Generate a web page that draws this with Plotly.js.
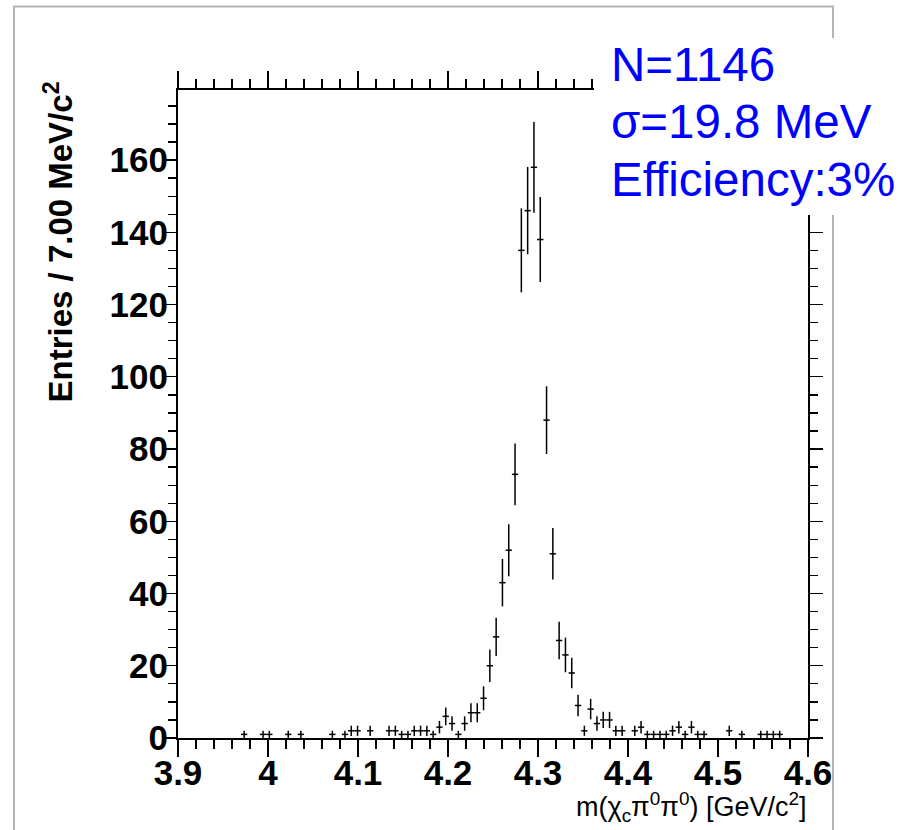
<!DOCTYPE html>
<html>
<head>
<meta charset="utf-8">
<script src="https://cdn.plot.ly/plotly-3.0.1.min.js"></script>
<style>
html,body{margin:0;padding:0;background:#fff;}
#chart{width:915px;height:830px;}
</style>
</head>
<body>
<div id="chart"></div>
<script>
// Bin centres (GeV/c^2) of non-empty 7 MeV bins, 3.9 - 4.6
const massCenters = [
  3.9735, 3.9945, 4.0015, 4.0225, 4.0365, 4.0715, 4.0855, 4.0925, 4.0995, 4.1135,
  4.1345, 4.1415, 4.1485, 4.1555, 4.1625, 4.1695, 4.1765, 4.1835, 4.1905, 4.1975,
  4.2045, 4.2115, 4.2185, 4.2255, 4.2325, 4.2395, 4.2465, 4.2535, 4.2605, 4.2675,
  4.2745, 4.2815, 4.2885, 4.2955, 4.3025, 4.3095, 4.3165, 4.3235, 4.3305, 4.3375,
  4.3445, 4.3515, 4.3585, 4.3655, 4.3725, 4.3795, 4.3865, 4.3935, 4.4075, 4.4145,
  4.4215, 4.4285, 4.4355, 4.4425, 4.4495, 4.4565, 4.4635, 4.4705, 4.4775, 4.4845,
  4.5125, 4.5265, 4.5475, 4.5545, 4.5615, 4.5685
];
// Entries per bin
const counts = [
  1, 1, 1, 1, 1, 1, 1, 2, 2, 2,
  2, 2, 1, 1, 2, 2, 2, 1, 3, 6,
  4, 1, 4, 7, 7, 11, 20, 28, 43, 52,
  73, 135, 146, 158, 138, 88, 51, 27, 23, 18,
  9, 2, 8, 4, 5, 5, 2, 2, 2, 3,
  1, 1, 1, 1, 2, 3, 1, 3, 1, 1,
  2, 1, 1, 1, 1, 1
];
const binHalfWidth = 0.0035;
const xTickVals = [3.9, 4.0, 4.1, 4.2, 4.3, 4.4, 4.5, 4.6];
const xTickText = ["3.9", "4", "4.1", "4.2", "4.3", "4.4", "4.5", "4.6"];
const yTickVals = [0, 20, 40, 60, 80, 100, 120, 140, 160];
const yTickText = ["0", "20", "40", "60", "80", "100", "120", "140", "160"];
const infoLines = ["N=1146", "σ=19.8 MeV", "Efficiency:3%"];

const errs = counts.map(v => Math.sqrt(v));

// pixel helpers for paper coordinates
const L = 178, R = 808, T = 90, B = 738;
const px = p => (p - L) / (R - L);
const py = p => (B - p) / (B - T);

const trace = {
  type: 'scatter',
  mode: 'markers',
  x: massCenters,
  y: counts,
  marker: {size: 1, color: 'black'},
  error_y: {type: 'data', array: errs, visible: true, color: 'black', thickness: 1.5, width: 0},
  error_x: {type: 'constant', value: binHalfWidth, visible: true, color: 'black', thickness: 1.5, width: 0},
  hoverinfo: 'skip',
  showlegend: false
};

const tickFont = {family: 'Liberation Sans, Arial, sans-serif', size: 35, color: 'black', weight: 'bold'};

const layout = {
  width: 915, height: 830,
  margin: {l: L, r: 915 - R, t: T, b: 830 - B, pad: 0},
  paper_bgcolor: 'white', plot_bgcolor: 'white',
  showlegend: false,
  xaxis: {
    range: [3.9, 4.6], tickmode: 'array', tickvals: xTickVals, ticktext: xTickText,
    ticks: 'outside', ticklen: 17, tickwidth: 1.3, tickcolor: 'black',
    minor: {dtick: 0.02, tick0: 3.9, ticks: 'outside', ticklen: 9, tickwidth: 1.3, tickcolor: 'black', showgrid: false},
    showline: true, linecolor: 'black', linewidth: 2, mirror: 'ticks',
    showgrid: false, zeroline: false, tickfont: tickFont, ticklabelstandoff: -14
  },
  yaxis: {
    range: [0, 179.4], tickmode: 'array', tickvals: yTickVals, ticktext: yTickText,
    ticks: 'outside', ticklen: 13, tickwidth: 1.3, tickcolor: 'black',
    minor: {dtick: 5, tick0: 0, ticks: 'outside', ticklen: 8, tickwidth: 1.3, tickcolor: 'black', showgrid: false},
    showline: true, linecolor: 'black', linewidth: 2, mirror: 'ticks',
    showgrid: false, zeroline: false, tickfont: tickFont, ticklabelstandoff: -12
  },
  shapes: [
    {type: 'rect', xref: 'paper', yref: 'paper', x0: px(14), x1: px(833), y0: py(850), y1: py(6.5),
     line: {color: '#b4b4b4', width: 2}, fillcolor: 'rgba(0,0,0,0)', layer: 'below'},
    {type: 'rect', xref: 'paper', yref: 'paper', x0: px(594), x1: px(912), y0: py(215), y1: py(38),
     line: {width: 0}, fillcolor: 'white', layer: 'above'}
  ],
  annotations: [
    {xref: 'paper', yref: 'paper', x: px(59), y: py(80), xanchor: 'center', yanchor: 'top',
     text: 'Entries / 7.00 MeV/c<sup>2</sup>', textangle: -90, showarrow: false,
     font: {family: 'Liberation Sans, Arial, sans-serif', size: 33, color: 'black', weight: 'bold'}},
    {xref: 'paper', yref: 'paper', x: px(808), y: py(807), xanchor: 'right', yanchor: 'middle',
     text: 'm(χ<sub>c</sub>π<sup>0</sup>π<sup>0</sup>) [GeV/c<sup>2</sup>]', showarrow: false,
     font: {family: 'Liberation Sans, Arial, sans-serif', size: 27, color: 'black'}},
    {xref: 'paper', yref: 'paper', x: px(609), y: py(64), xanchor: 'left', yanchor: 'middle',
     text: infoLines[0], showarrow: false,
     font: {family: 'Liberation Sans, Arial, sans-serif', size: 47.5, color: '#0000ff'}},
    {xref: 'paper', yref: 'paper', x: px(609), y: py(121), xanchor: 'left', yanchor: 'middle',
     text: infoLines[1], showarrow: false,
     font: {family: 'Liberation Sans, Arial, sans-serif', size: 47.5, color: '#0000ff'}},
    {xref: 'paper', yref: 'paper', x: px(609), y: py(179), xanchor: 'left', yanchor: 'middle',
     text: infoLines[2], showarrow: false,
     font: {family: 'Liberation Sans, Arial, sans-serif', size: 47.5, color: '#0000ff'}}
  ]
};

Plotly.newPlot('chart', [trace], layout, {staticPlot: true, displayModeBar: false});
</script>
</body>
</html>
